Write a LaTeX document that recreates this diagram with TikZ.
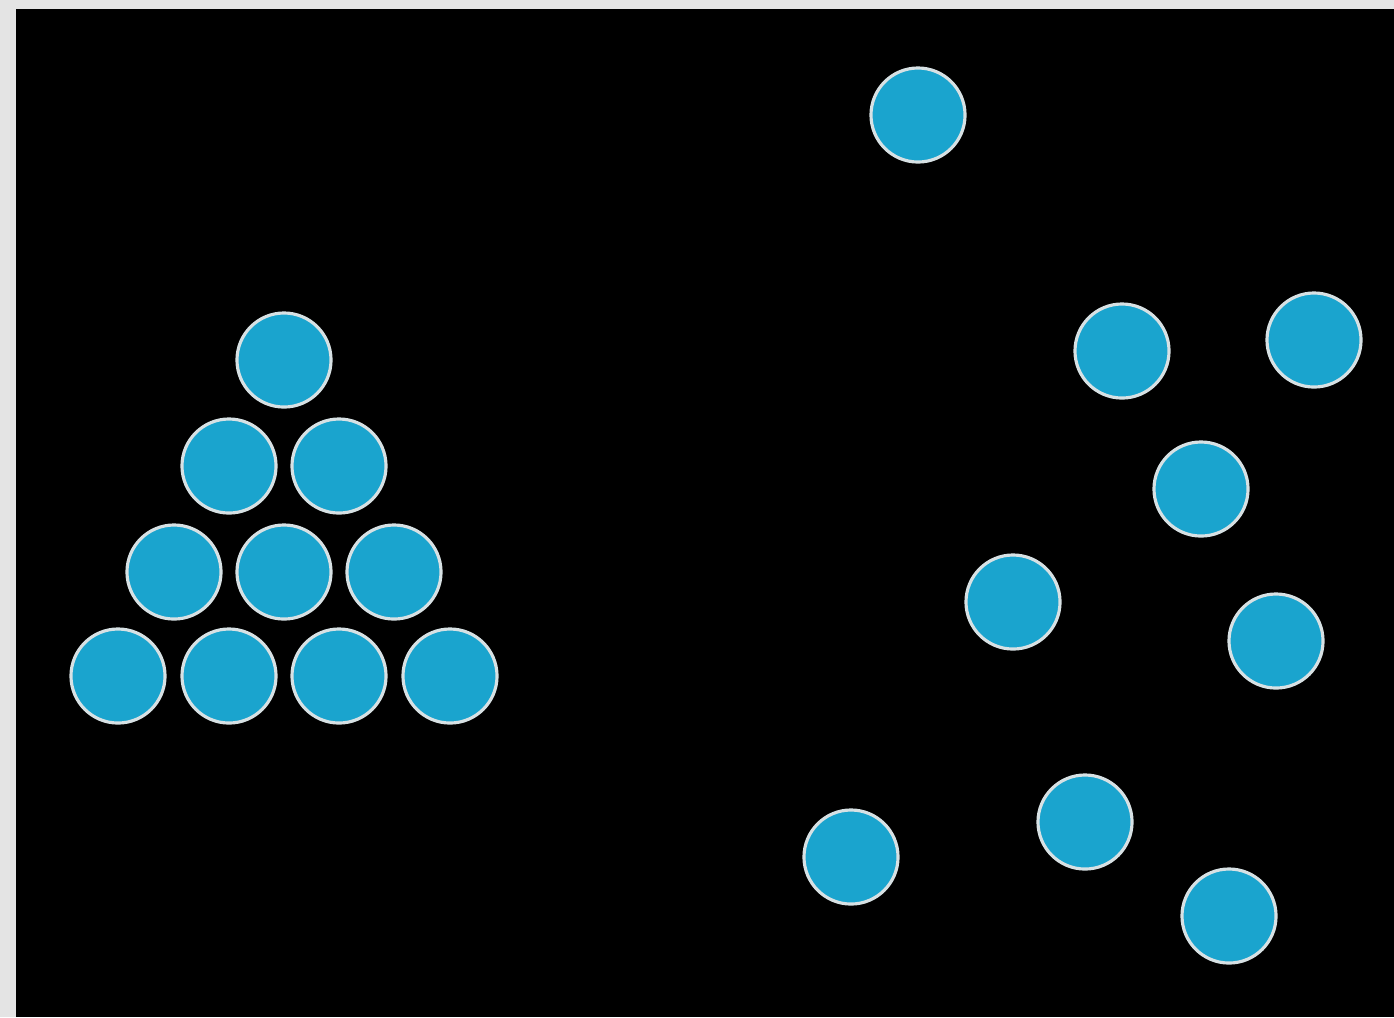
\documentclass[tikz,border=0pt]{standalone}
\usepackage{tikz}
\usetikzlibrary{positioning}
\definecolor{ballBlue}{RGB}{26,164,206}
\definecolor{ballRim}{RGB}{215,225,228}
\definecolor{frameGray}{RGB}{228,228,228}

\begin{document}
\begin{tikzpicture}[x=0.01cm,y=-0.01cm,
      ball/.style={circle,draw=ballRim,line width=0.9pt,fill=ballBlue,minimum size=0.94cm,inner sep=0pt}]
    % frame and black field
    \fill[frameGray] (0,0) rectangle (1394,1017);
    \fill[black] (16,9) rectangle (1394,1017);
    \useasboundingbox (0,0) rectangle (1394,1017);
    % racked triangle
    \node[ball] (t1) at (284,360) {};
    \node[ball] (t2) at (229,466) {};
    \node[ball] (t3) at (339,466) {};
    \node[ball] (t4) at (174,572) {};
    \node[ball] (t5) at (284,572) {};
    \node[ball] (t6) at (394,572) {};
    \node[ball] (t7) at (118,676) {};
    \node[ball] (t8) at (229,676) {};
    \node[ball] (t9) at (339,676) {};
    \node[ball] (t10) at (450,676) {};
    % scattered balls
    \node[ball] (s1) at (918,115) {};
    \node[ball] (s2) at (1122,351) {};
    \node[ball] (s3) at (1314,340) {};
    \node[ball] (s4) at (1201,489) {};
    \node[ball] (s5) at (1013,602) {};
    \node[ball] (s6) at (1276,641) {};
    \node[ball] (s7) at (851,857) {};
    \node[ball] (s8) at (1085,822) {};
    \node[ball] (s9) at (1229,916) {};
  \end{tikzpicture}
\end{document}
